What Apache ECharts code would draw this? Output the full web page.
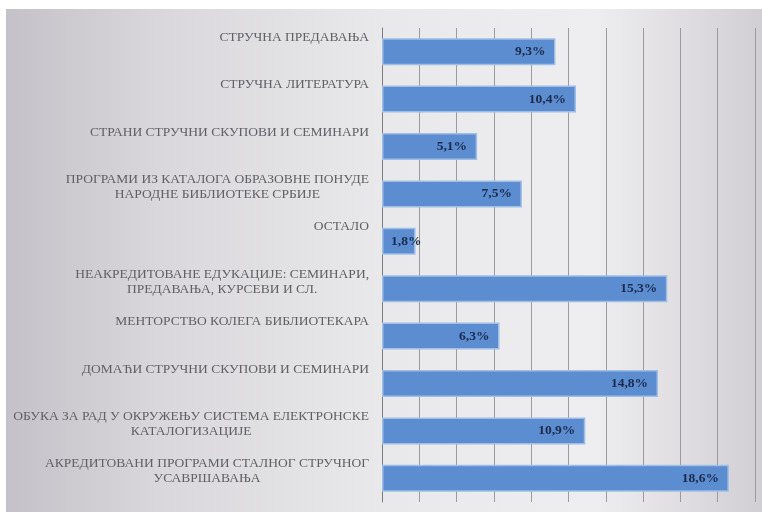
<!DOCTYPE html>
<html>
<head>
<meta charset="utf-8">
<script src="https://cdn.jsdelivr.net/npm/echarts/dist/echarts.min.js"></script>
<style>html,body{margin:0;padding:0;background:#fff}#c{width:762px;height:512px}</style>
</head>
<body>
<div id="c"></div>
<script>
const categories = [
  'СТРУЧНА ПРЕДАВАЊА',
  'СТРУЧНА ЛИТЕРАТУРА',
  'СТРАНИ СТРУЧНИ СКУПОВИ И СЕМИНАРИ',
  'ПРОГРАМИ ИЗ КАТАЛОГА ОБРАЗОВНЕ ПОНУДЕ\nНАРОДНЕ БИБЛИОТЕКЕ СРБИЈЕ',
  'ОСТАЛО',
  'НЕАКРЕДИТОВАНЕ ЕДУКАЦИЈЕ: СЕМИНАРИ,\nПРЕДАВАЊА, КУРСЕВИ И СЛ.',
  'МЕНТОРСТВО КОЛЕГА БИБЛИОТЕКАРА',
  'ДОМАЋИ СТРУЧНИ СКУПОВИ И СЕМИНАРИ',
  'ОБУКА ЗА РАД У ОКРУЖЕЊУ СИСТЕМА ЕЛЕКТРОНСКЕ\nКАТАЛОГИЗАЦИЈЕ',
  'АКРЕДИТОВАНИ ПРОГРАМИ СТАЛНОГ СТРУЧНОГ\nУСАВРШАВАЊА'
];
const values = [9.3, 10.4, 5.1, 7.5, 1.8, 15.3, 6.3, 14.8, 10.9, 18.6];
const axisMin = 0, axisMax = 20, axisStep = 2;

const chart = echarts.init(document.getElementById('c'), null, {renderer: 'canvas'});

const barData = values.map(v => v < 3
  ? {value: v, label: {position: 'insideLeft', distance: 9}}
  : v);

chart.setOption({
  backgroundColor: '#ffffff',
  animation: false,
  graphic: [{
    type: 'rect', z: -10, silent: true,
    shape: {x: 6, y: 9, width: 756, height: 503},
    style: {
      fill: new echarts.graphic.LinearGradient(0, 0, 1, 0, [
        {offset: 0, color: '#c4c1c8'},
        {offset: 0.2, color: '#d9d7db'},
        {offset: 0.5, color: '#e9e8ea'},
        {offset: 0.78, color: '#eeedef'},
        {offset: 1, color: '#d2cfd4'}
      ])
    }
  }],
  grid: [
    {left: 382, top: 28, width: 373, height: 474, outerBoundsMode: 'none', containLabel: false},
    {left: 382, top: 6, width: 373, height: 474, outerBoundsMode: 'none', containLabel: false}
  ],
  xAxis: [
    {
      type: 'value', gridIndex: 0, min: axisMin, max: axisMax, interval: axisStep,
      axisLabel: {show: false}, axisTick: {show: false}, axisLine: {show: false},
      splitLine: {show: true, lineStyle: {color: '#9c9a9e', width: 1}}
    },
    {type: 'value', gridIndex: 1, min: axisMin, max: axisMax, show: false}
  ],
  yAxis: [
    {
      type: 'category', gridIndex: 0, data: categories, inverse: true,
      axisLine: {show: true, lineStyle: {color: '#7d7b80', width: 1}},
      axisTick: {show: false}, axisLabel: {show: false}, splitLine: {show: false}
    },
    {
      type: 'category', gridIndex: 1, data: categories, inverse: true,
      axisLine: {show: false}, axisTick: {show: false}, splitLine: {show: false},
      axisLabel: {
        show: true, interval: 0, margin: 13, align: 'right', verticalAlign: 'top',
        formatter: s => s.split('\n').map(l => '{c|' + l + '}').join('\n'),
        rich: {
          c: {align: 'center', fontFamily: 'Liberation Serif, serif', fontSize: 13.5,
              color: '#616064', lineHeight: 15}
        }
      }
    }
  ],
  series: [{
    type: 'bar', xAxisIndex: 0, yAxisIndex: 0, data: barData,
    barWidth: 27,
    itemStyle: {color: '#5b8dd0', borderColor: '#9fbee6', borderWidth: 1.5},
    label: {
      show: true, position: 'insideRight', distance: 10,
      formatter: p => String(p.value).replace('.', ',') + '%',
      fontFamily: 'Liberation Serif, serif', fontWeight: 'bold', fontSize: 13.5,
      color: '#1c2a4a'
    }
  }]
});
</script>
</body>
</html>
